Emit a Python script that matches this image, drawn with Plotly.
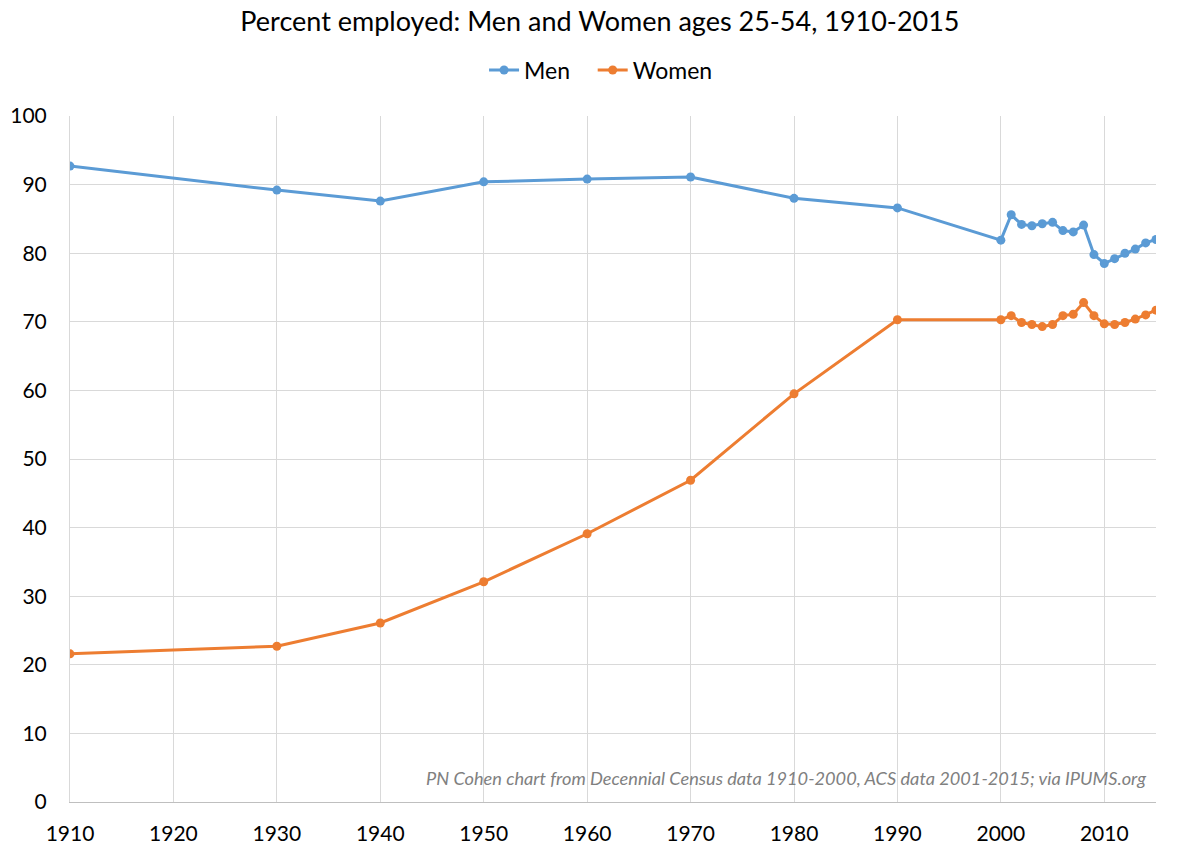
import plotly.graph_objects as go

years = [1910, 1930, 1940, 1950, 1960, 1970, 1980, 1990, 2000,
         2001, 2002, 2003, 2004, 2005, 2006, 2007, 2008,
         2009, 2010, 2011, 2012, 2013, 2014, 2015]
men = [92.7, 89.2, 87.6, 90.4, 90.8, 91.1, 88.0, 86.6, 81.9,
       85.6, 84.2, 84.0, 84.3, 84.5, 83.3, 83.1, 84.1,
       79.8, 78.5, 79.2, 80.0, 80.6, 81.5, 82.0]
women = [21.6, 22.7, 26.1, 32.1, 39.1, 46.9, 59.5, 70.3, 70.3,
         70.9, 69.9, 69.6, 69.3, 69.6, 70.9, 71.1, 72.8,
         70.9, 69.7, 69.6, 69.9, 70.4, 71.0, 71.7]
x_ticks = list(range(1910, 2011, 10))
y_ticks = list(range(0, 101, 10))

title_text = "Percent employed: Men and Women ages 25-54, 1910-2015"
source_text = "PN Cohen chart from Decennial Census data 1910-2000, ACS data 2001-2015; via IPUMS.org"

FONT = "Lato, 'Open Sans', sans-serif"
NBSP = "\u00a0"

fig = go.Figure()
fig.add_trace(go.Scatter(x=years, y=men, name="Men" + NBSP * 3, mode="lines+markers",
                         line=dict(color="#5b9bd5", width=3),
                         marker=dict(size=9, color="#5b9bd5")))
fig.add_trace(go.Scatter(x=years, y=women, name="Women", mode="lines+markers",
                         line=dict(color="#ed7d31", width=3),
                         marker=dict(size=9, color="#ed7d31")))

fig.update_layout(
    width=1178, height=855,
    paper_bgcolor="white", plot_bgcolor="white",
    margin=dict(l=70, r=22, t=116, b=53),
    font=dict(family=FONT, size=21, color="black"),
    title=dict(text=title_text, x=0.5093, xanchor="center", y=0.9743, yanchor="middle",
               font=dict(family=FONT, size=27, color="black")),
    legend=dict(orientation="h", x=0.489, xanchor="center", y=1.067, yanchor="middle",
                font=dict(family=FONT, size=23, color="black"),
                bgcolor="rgba(0,0,0,0)"),
    xaxis=dict(range=[1910, 2015], tickmode="array", tickvals=x_ticks,
               showgrid=True, gridcolor="#d9d9d9", gridwidth=1,
               showline=True, linecolor="#bfbfbf", linewidth=1,
               zeroline=False, ticks="", ticklabelstandoff=13, automargin=False,
               tickfont=dict(family=FONT, size=21, color="black")),
    yaxis=dict(range=[0, 100], tickmode="array", tickvals=y_ticks,
               showgrid=True, gridcolor="#d9d9d9", gridwidth=1,
               showline=True, linecolor="#d9d9d9", linewidth=1,
               zeroline=False, ticks="", ticklabelstandoff=18, automargin=False,
               tickfont=dict(family=FONT, size=21, color="black")),
    annotations=[dict(text=source_text, xref="paper", yref="paper",
                      x=0.9926, y=0.035, xanchor="right", yanchor="middle",
                      showarrow=False,
                      font=dict(family=FONT, size=18.2, color="#808080", style="italic"))],
)

fig.write_html("out.html", config={"displayModeBar": False},
               post_script="document.body.style.margin='0';")
